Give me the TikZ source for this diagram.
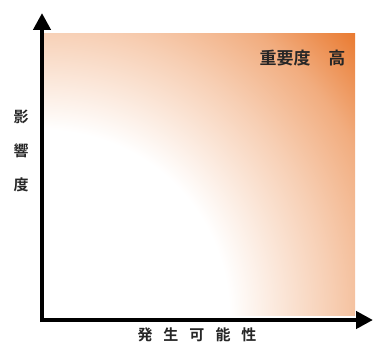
\documentclass[tikz,border=0pt]{standalone}
\usepackage{fontspec}
\newfontfamily\cjk{Noto Sans CJK JP Bold}
\usetikzlibrary{arrows.meta}
\definecolor{hiorange}{HTML}{E97A30}
\pgfdeclareradialshading{riskshade}{\pgfpoint{0bp}{0bp}}{%
  color(0bp)=(white);
  color(11bp)=(white);
  color(17bp)=(hiorange!36!white);
  color(21bp)=(hiorange!62!white);
  color(25bp)=(hiorange);
  color(50bp)=(hiorange)}
\tikzset{
  axis/.style={line width=4.5pt,-{Triangle[length=17pt,width=17pt]}},
  lbl/.style={font=\cjk\fontsize{15}{15}\selectfont,inner sep=0pt,text=black!85}
}
\begin{document}
\begin{tikzpicture}[x=1pt,y=1pt]
\useasboundingbox (0,0) rectangle (374,343);
\begin{scope}
  \clip (44,28) rectangle (355,309);
  \shade[shading=riskshade] (44,28) circle (420);
\end{scope}
\coordinate (yb) at (42,21);
\coordinate (yt) at (42,330);
\coordinate (xl) at (40,23);
\coordinate (xr) at (373,23);
\draw[axis] (yb) -- (yt);
\draw[axis] (xl) -- (xr);
\node[lbl,font=\cjk\fontsize{17}{17}\selectfont] (hi) at (302.5,285) {重要度\hspace{18pt}高};
\node[lbl] (y1) at (21,226) {影};
\node[lbl] (y2) at (21,192) {響};
\node[lbl] (y3) at (21,158) {度};
\node[lbl] (xlab) at (197,8) {発\hspace{11pt}生\hspace{11pt}可\hspace{11pt}能\hspace{11pt}性};
\end{tikzpicture}
\end{document}
